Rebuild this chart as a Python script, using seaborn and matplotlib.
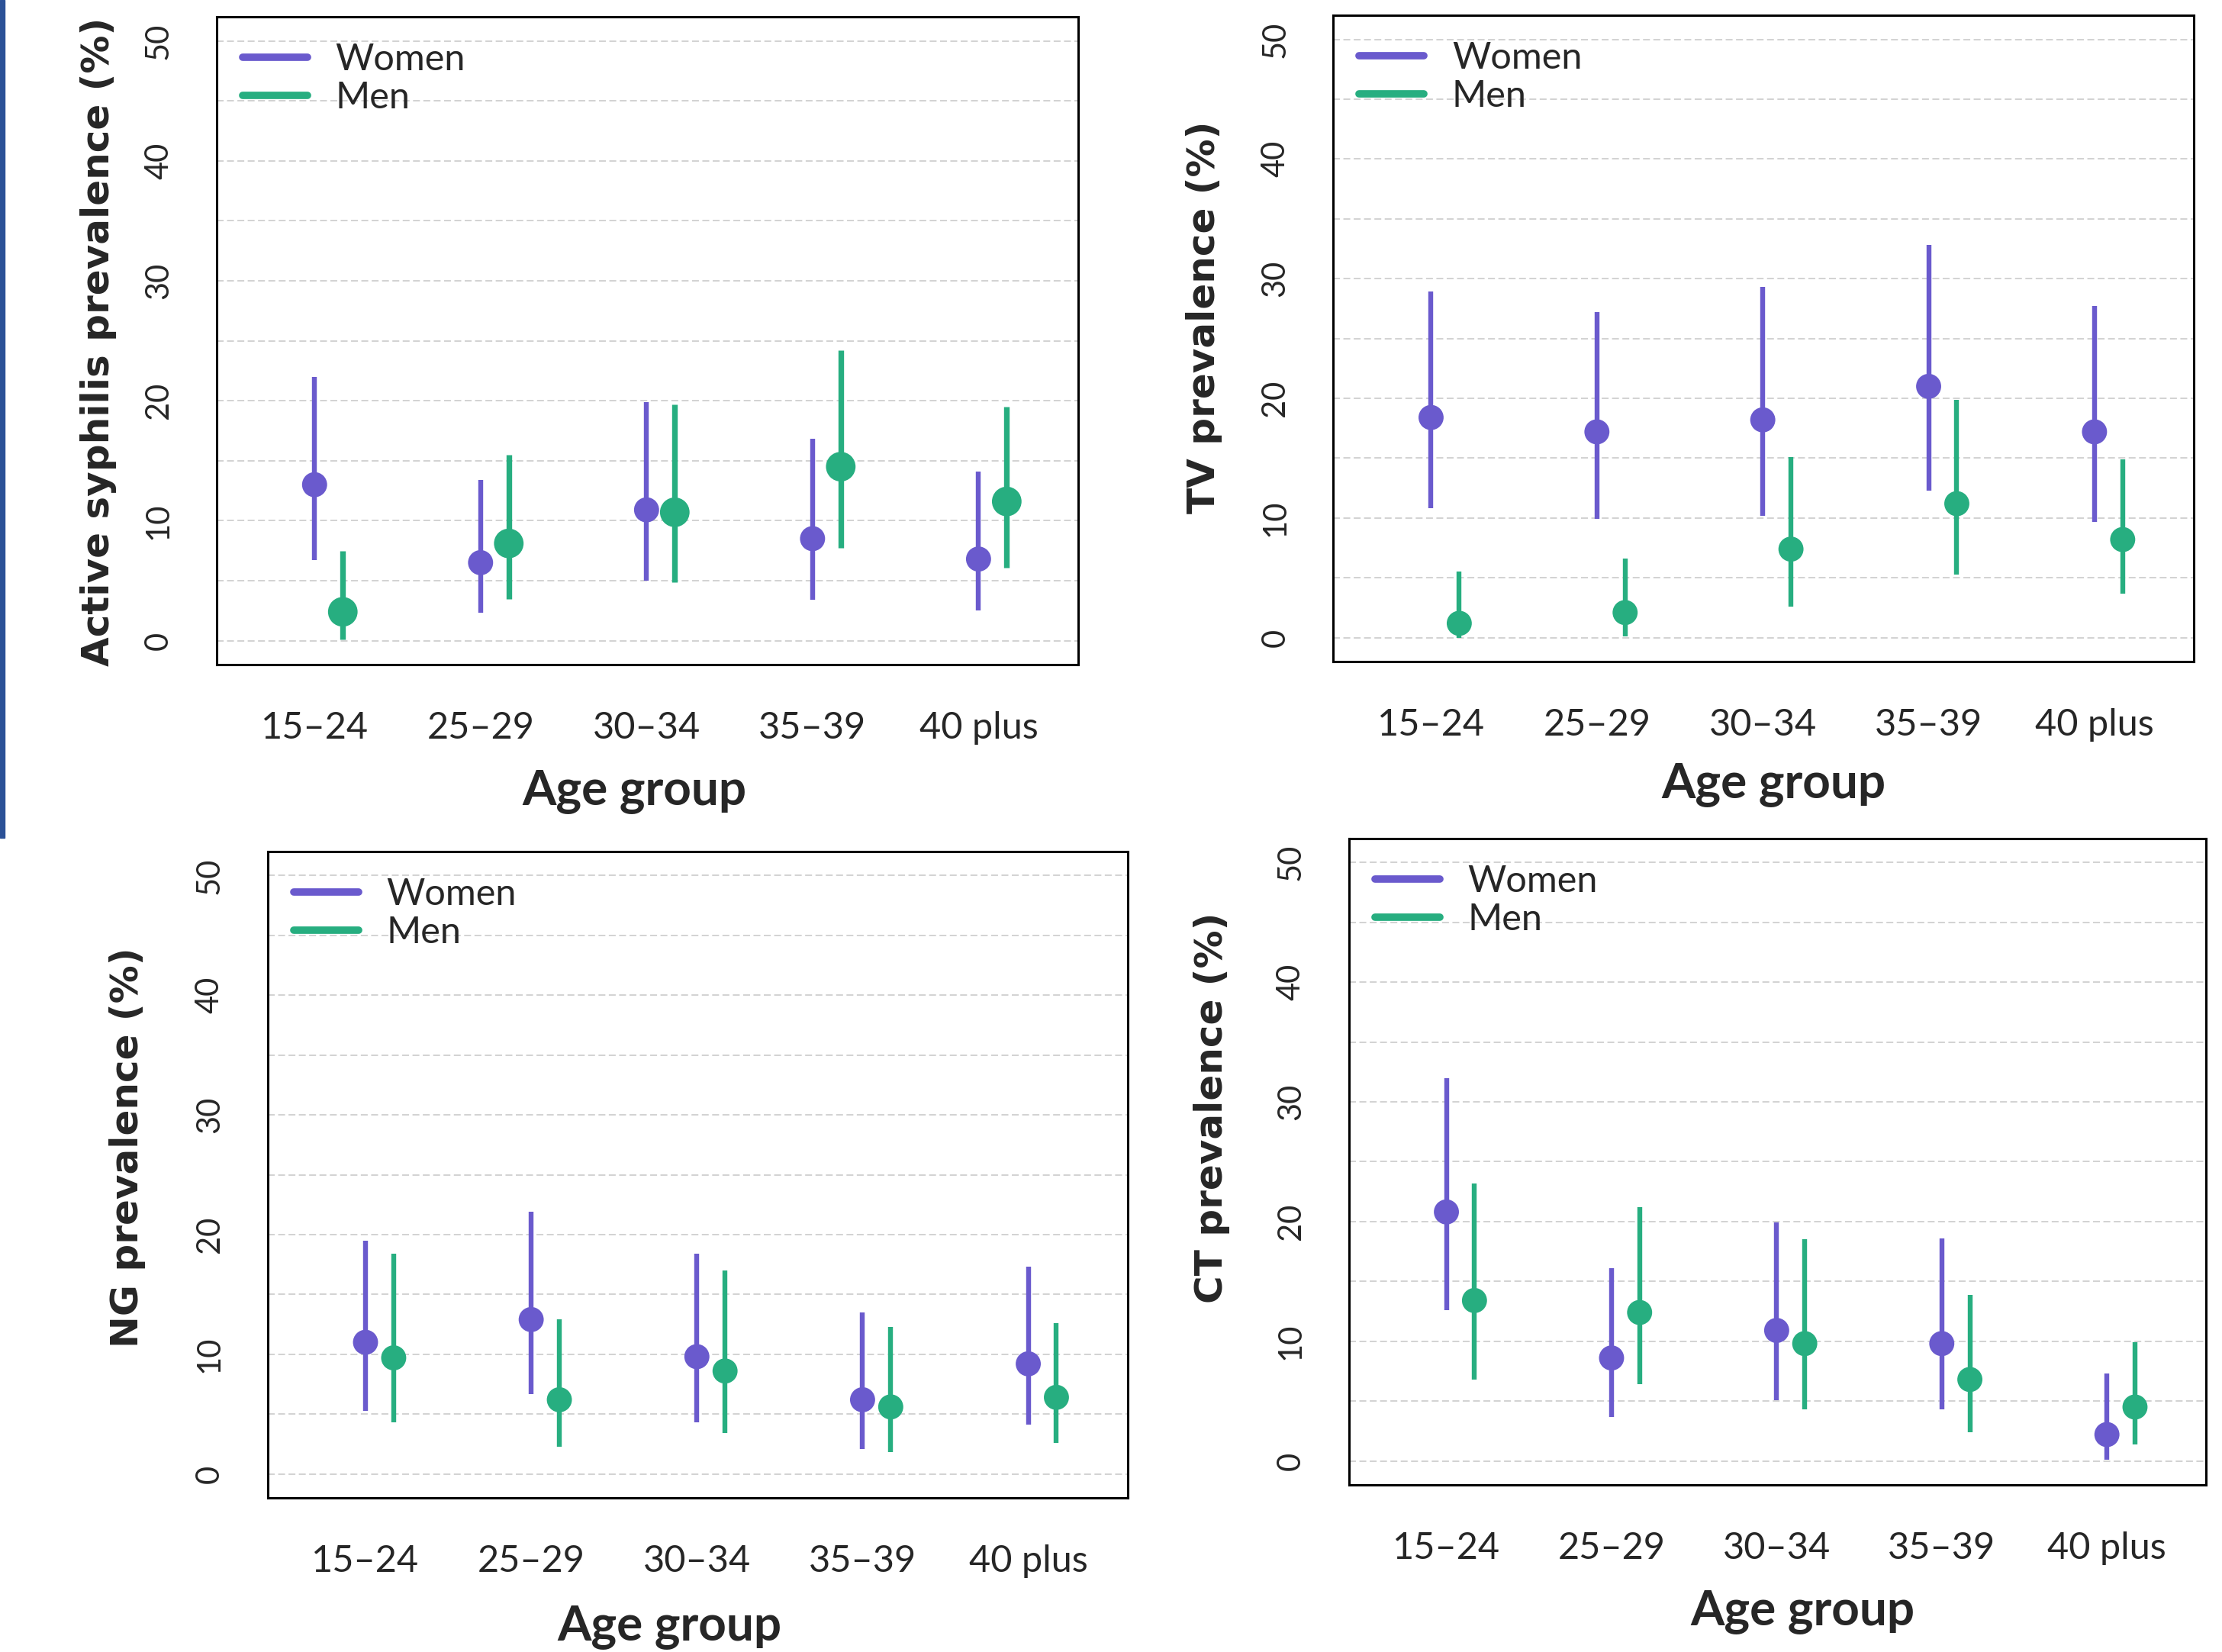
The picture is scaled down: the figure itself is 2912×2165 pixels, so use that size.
#!/usr/bin/env python3
"""Prevalence by age group, women vs men, four STI panels."""

import matplotlib
matplotlib.use("Agg")
import matplotlib.pyplot as plt
from matplotlib.lines import Line2D
from matplotlib.patches import Rectangle
import numpy as np
import pandas as pd
import seaborn as sns

age_groups = ["15\u201324", "25\u201329", "30\u201334", "35\u201339", "40 plus"]
sexes = ["Women", "Men"]

# Active syphilis
syph_women = [13.0, 6.5, 10.9, 8.5, 6.8]
syph_women_lo = [6.7, 2.3, 5.0, 3.4, 2.5]
syph_women_hi = [22.0, 13.4, 19.9, 16.8, 14.1]
syph_men = [2.4, 8.1, 10.7, 14.5, 11.6]
syph_men_lo = [0.1, 3.5, 4.9, 7.7, 6.1]
syph_men_hi = [7.5, 15.5, 19.7, 24.2, 19.5]

# TV
tv_women = [18.4, 17.2, 18.2, 21.0, 17.2]
tv_women_lo = [10.8, 9.9, 10.2, 12.3, 9.7]
tv_women_hi = [28.9, 27.2, 29.3, 32.8, 27.7]
tv_men = [1.2, 2.1, 7.4, 11.2, 8.2]
tv_men_lo = [0.0, 0.1, 2.6, 5.3, 3.7]
tv_men_hi = [5.5, 6.6, 15.1, 19.9, 14.9]

# NG
ng_women = [11.0, 12.9, 9.8, 6.2, 9.2]
ng_women_lo = [5.3, 6.7, 4.3, 2.1, 4.1]
ng_women_hi = [19.5, 21.9, 18.4, 13.5, 17.3]
ng_men = [9.7, 6.2, 8.6, 5.6, 6.4]
ng_men_lo = [4.3, 2.3, 3.4, 1.8, 2.6]
ng_men_hi = [18.4, 12.9, 17.0, 12.3, 12.6]

# CT
ct_women = [20.8, 8.6, 10.9, 9.8, 2.2]
ct_women_lo = [12.6, 3.7, 5.1, 4.3, 0.1]
ct_women_hi = [32.0, 16.1, 19.9, 18.6, 7.3]
ct_men = [13.4, 12.4, 9.8, 6.8, 4.5]
ct_men_lo = [6.8, 6.4, 4.3, 2.4, 1.4]
ct_men_hi = [23.2, 21.2, 18.5, 13.9, 9.9]

COLORS = {"Women": "#6a5acd", "Men": "#27ae80"}
HUMANIST = ["Lato", "DejaVu Sans"]


def make_frame(w, wlo, whi, m, mlo, mhi):
    rows = []
    for sex, est, lo, hi, off in [("Women", w, wlo, whi, 0.0), ("Men", m, mlo, mhi, 0.17)]:
        for i, g in enumerate(age_groups):
            rows.append({"age": g, "sex": sex, "x": i + 1 + off,
                         "est": est[i], "lo": lo[i], "hi": hi[i]})
    return pd.DataFrame(rows)


panels = [
    # (data, ylabel, rect, ylab xy, xlab xy, marker sizes)
    (make_frame(syph_women, syph_women_lo, syph_women_hi, syph_men, syph_men_lo, syph_men_hi),
     "Active syphilis prevalence (%)", [0.0975, 0.5977, 0.3877, 0.3921],
     (-0.137, 0.499), (0.485, -0.195), (560, 780)),
    (make_frame(tv_women, tv_women_lo, tv_women_hi, tv_men, tv_men_lo, tv_men_hi),
     "TV prevalence (%)", [0.6000, 0.5995, 0.3874, 0.3912],
     (-0.150, 0.533), (0.512, -0.190), (560, 560)),
    (make_frame(ng_women, ng_women_lo, ng_women_hi, ng_men, ng_men_lo, ng_men_hi),
     "NG prevalence (%)", [0.1205, 0.0933, 0.3870, 0.3912],
     (-0.163, 0.542), (0.467, -0.200), (560, 560)),
    (make_frame(ct_women, ct_women_lo, ct_women_hi, ct_men, ct_men_lo, ct_men_hi),
     "CT prevalence (%)", [0.6071, 0.1012, 0.3857, 0.3912],
     (-0.160, 0.583), (0.529, -0.196), (560, 560)),
]

sns.set_style("white")
plt.rcParams["font.family"] = ["DejaVu Sans"]

fig = plt.figure(figsize=(29.12, 21.65), dpi=100)
fig.patches.append(Rectangle((0, 1 - 1098 / 2165), 6 / 2912, 1098 / 2165,
                             transform=fig.transFigure, color="#2b5197", zorder=0))

for df, ylabel, rect, ylab_xy, xlab_xy, msizes in panels:
    ax = fig.add_axes(rect)
    ax.set_xlim(0.41, 5.6)
    ax.set_ylim(-2, 52)
    ax.set_yticks(np.arange(0, 51, 10))
    ax.set_yticks(np.arange(5, 50, 10), minor=True)
    ax.yaxis.grid(True, which="both", color="#cfcfcf", linestyle=(0, (5, 2.5)), linewidth=1.3)
    ax.set_axisbelow(True)

    for sex, size in zip(sexes, msizes):
        sub = df[df["sex"] == sex]
        lw = 5.3 if size > 600 else 4.6
        ax.vlines(sub["x"], sub["lo"], sub["hi"], color=COLORS[sex], linewidth=lw, zorder=2)
        sns.scatterplot(data=sub, x="x", y="est", color=COLORS[sex], s=size,
                        edgecolor="none", ax=ax, zorder=3, legend=False)

    ax.set_xticks(range(1, 6))
    ax.set_xticklabels(age_groups, family=HUMANIST, fontsize=35)
    ax.set_yticklabels([str(v) for v in range(0, 51, 10)], family=HUMANIST, fontsize=30)
    ax.tick_params(axis="x", length=27, width=2, pad=17, color="black")
    ax.tick_params(axis="y", which="major", length=27, width=2, pad=14, color="black",
                   labelrotation=90)
    ax.tick_params(axis="y", which="minor", length=0)
    for lab in ax.get_yticklabels():
        lab.set_va("center")

    for side in ax.spines.values():
        side.set_color("black")
        side.set_linewidth(2.2)

    ax.set_ylabel(ylabel, fontsize=36, fontweight="bold", va="center")
    ax.yaxis.set_label_coords(*ylab_xy)
    ax.set_xlabel("Age group", family=HUMANIST, fontsize=46, fontweight="bold", va="center")
    ax.xaxis.set_label_coords(*xlab_xy)

    handles = [Line2D([], [], color=COLORS[s], linewidth=7, solid_capstyle="round") for s in sexes]
    ax.legend(handles, sexes, loc="upper left", frameon=False, prop={"family": HUMANIST, "size": 35},
              handlelength=1.75, handletextpad=0.75, labelspacing=0.12,
              borderpad=0.0, borderaxespad=0.7)

fig.savefig("out.png", dpi=100, facecolor="white")
